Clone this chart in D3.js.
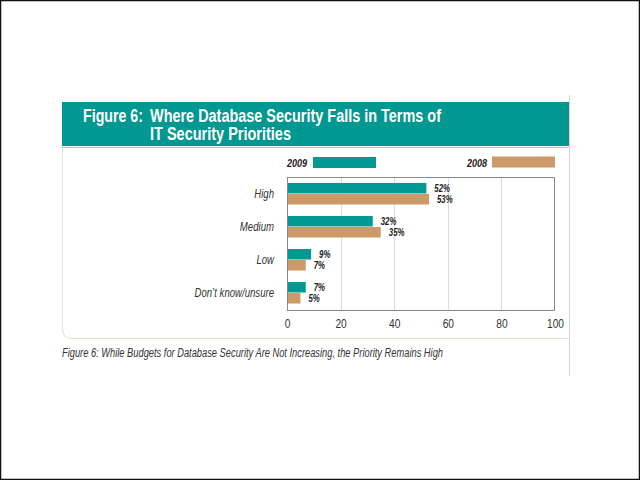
<!DOCTYPE html>
<html>
<head>
<meta charset="utf-8">
<script src="https://cdn.jsdelivr.net/npm/d3@7"></script>
<style>
    body { margin: 0; background: #fff; }
    svg { display: block; font-family: "Liberation Sans", Arial, sans-serif; }
</style>
</head>
<body>
<div id="chart"></div>
<script>
(function () {
    // data
    const categories = ["High", "Medium", "Low", "Don\u2019t know/unsure"];
    const years = ["2009", "2008"];
    const values2009 = [52, 32, 9, 7];
    const values2008 = [53, 35, 7, 5];
    const xTicks = [0, 20, 40, 60, 80, 100];

    const teal = "#009a93";
    const tan = "#cc9a68";
    const color = d3.scaleOrdinal().domain(years).range([teal, tan]);

    const rows = categories.map((c, i) => ({
        cat: c,
        vals: [{ year: "2009", v: values2009[i] }, { year: "2008", v: values2008[i] }]
    }));

    // squeeze text horizontally to mimic a condensed face
    function condense(sel, k) {
        sel.each(function () {
            const w = this.getComputedTextLength();
            d3.select(this).attr("textLength", w * k).attr("lengthAdjust", "spacingAndGlyphs");
        });
    }

    const svg = d3.select("#chart").append("svg")
        .attr("width", 640).attr("height", 480);

    // outer frame
    svg.append("rect")
        .attr("x", 0.5).attr("y", 0.5).attr("width", 639).attr("height", 479)
        .attr("fill", "#fff").attr("stroke", "#111").attr("stroke-width", 1.5);

    // right rule of the page
    svg.append("line")
        .attr("x1", 569.5).attr("x2", 569.5).attr("y1", 95).attr("y2", 376)
        .attr("stroke", "#d8d8d8");

    // panel outline (light beige, rounded bottom-left)
    svg.append("path")
        .attr("d", "M62.5,146 L62.5,329 Q62.5,338.5 72,338.5 L569,338.5")
        .attr("fill", "none").attr("stroke", "#e6e0cc").attr("stroke-width", 1);

    // header band
    svg.append("rect")
        .attr("x", 62).attr("y", 102).attr("width", 507).attr("height", 44)
        .attr("fill", "#009891");
    svg.append("line")
        .attr("x1", 62).attr("x2", 569).attr("y1", 147.5).attr("y2", 147.5)
        .attr("stroke", "#9fd9d5");

    const title = svg.append("g")
        .attr("fill", "#fff").attr("font-weight", "bold").attr("font-size", 18);
    title.append("text").attr("x", 83).attr("y", 122)
        .attr("textLength", 60).attr("lengthAdjust", "spacingAndGlyphs")
        .text("Figure 6:");
    title.append("text").attr("x", 150).attr("y", 122)
        .attr("textLength", 291).attr("lengthAdjust", "spacingAndGlyphs")
        .text("Where Database Security Falls in Terms of");
    title.append("text").attr("x", 150).attr("y", 140)
        .attr("textLength", 141).attr("lengthAdjust", "spacingAndGlyphs")
        .text("IT Security Priorities");

    // plot area
    const left = 287, right = 555, top = 177, bottom = 310;

    const x = d3.scaleLinear().domain([0, 100]).range([left, right]);
    const y0 = d3.scaleBand().domain(categories).range([top, bottom])
        .paddingInner(0.333).paddingOuter(0.18);
    const y1 = d3.scaleBand().domain(years).range([0, y0.bandwidth()]).padding(0);

    // gridlines
    svg.append("g")
        .selectAll("line")
        .data(xTicks.slice(1, -1))
        .join("line")
        .attr("x1", d => Math.round(x(d)) + 0.5).attr("x2", d => Math.round(x(d)) + 0.5)
        .attr("y1", top).attr("y2", bottom)
        .attr("stroke", "#dcdcdc");

    // frame
    svg.append("rect")
        .attr("x", left + 0.5).attr("y", top + 0.5)
        .attr("width", right - left - 1).attr("height", bottom - top)
        .attr("fill", "none").attr("stroke", "#8a8a8a");

    // x axis labels
    const xAxis = d3.axisBottom(x).tickValues(xTicks).tickSize(0).tickPadding(9);
    const gx = svg.append("g")
        .attr("transform", `translate(0,${bottom})`)
        .call(xAxis);
    gx.select(".domain").remove();
    gx.selectAll("text")
        .attr("font-family", "'Liberation Sans', Arial, sans-serif")
        .attr("font-size", 12).attr("fill", "#333")
        .call(condense, 0.85);

    // category labels
    const yAxis = d3.axisLeft(y0).tickSize(0).tickPadding(13);
    const gy = svg.append("g")
        .attr("transform", `translate(${left},0)`)
        .call(yAxis);
    gy.select(".domain").remove();
    gy.selectAll("text")
        .attr("font-family", "'Liberation Sans', Arial, sans-serif")
        .attr("font-size", 12).attr("font-style", "italic").attr("fill", "#333")
        .call(condense, 0.8);

    // bars
    const groups = svg.append("g").selectAll("g")
        .data(rows)
        .join("g")
        .attr("transform", d => `translate(0,${y0(d.cat)})`);

    groups.selectAll("rect")
        .data(d => d.vals)
        .join("rect")
        .attr("x", x(0) + 1)
        .attr("y", d => y1(d.year))
        .attr("width", d => x(d.v) - x(0) - 1)
        .attr("height", y1.bandwidth() - 0.5)
        .attr("fill", d => color(d.year));

    groups.selectAll("text")
        .data(d => d.vals)
        .join("text")
        .attr("x", d => x(d.v) + 8)
        .attr("y", d => y1(d.year) + y1.bandwidth() / 2 + 3.5)
        .attr("font-size", 10).attr("font-weight", "bold").attr("font-style", "italic")
        .attr("fill", "#222")
        .text(d => d.v + "%")
        .call(condense, 0.78);

    // legend
    const legend = [
        { year: "2009", tx: 307, rx: 313, ry: 157 },
        { year: "2008", tx: 487, rx: 492, ry: 156.5 }
    ];
    const lg = svg.append("g").selectAll("g").data(legend).join("g");
    lg.append("text")
        .attr("x", d => d.tx).attr("y", d => d.ry + 10)
        .attr("text-anchor", "end")
        .attr("font-size", 11).attr("font-weight", "bold").attr("font-style", "italic")
        .attr("fill", "#222")
        .text(d => d.year)
        .call(condense, 0.82);
    lg.append("rect")
        .attr("x", d => d.rx).attr("y", d => d.ry)
        .attr("width", 63).attr("height", 11)
        .attr("fill", d => color(d.year));

    // caption
    svg.append("text")
        .attr("x", 62).attr("y", 357)
        .attr("font-size", 12).attr("font-style", "italic").attr("fill", "#333")
        .attr("textLength", 381).attr("lengthAdjust", "spacingAndGlyphs")
        .text("Figure 6: While Budgets for Database Security Are Not Increasing, the Priority Remains High");
})();
</script>
</body>
</html>
